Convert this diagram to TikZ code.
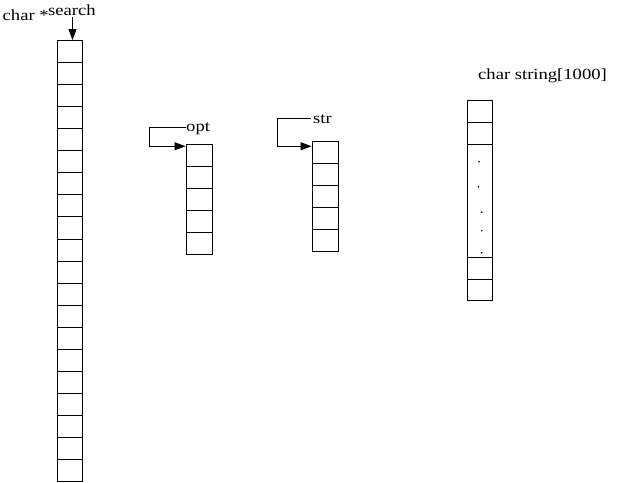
\documentclass[tikz,border=0pt]{standalone}
\usepackage{fontspec}
\setmainfont{Liberation Serif}
\usetikzlibrary{arrows.meta}
\newcommand{\lbltext}[1]{\scalebox{1.2}[1]{\fontsize{15.5}{18}\selectfont #1}}
\begin{document}
\begin{tikzpicture}[x=1pt,y=-1pt,
  cell/.style={draw,line width=0.9pt,rectangle,inner sep=0pt,minimum height=22pt},
  lbl/.style={inner sep=0pt,anchor=base west},
  ptr/.style={line width=0.9pt,-{Triangle[length=11pt,width=8pt]}}]
\useasboundingbox (0,0) rectangle (620,482);
% left column: char *search
\foreach \i in {1,...,20}{
  \node[cell,minimum width=24.5pt,minimum height=22.05pt] (s\i) at (69.75,{40.5+22.05*(\i-0.5)}) {};
}
\node[lbl] (charl) at (2.5,20.7) {\lbltext{char *}};
\node[lbl] (searchl) at (48,15) {\lbltext{search}};
\coordinate (sstart) at (72.5,17);
\draw[ptr] (sstart) -- (s1.north -| sstart);
% opt column
\foreach \i in {1,...,5}{
  \node[cell,minimum width=26.5pt] (o\i) at (199.25,{144+22*(\i-0.5)}) {};
}
\node[lbl] (optl) at (186,131.7) {\lbltext{opt}};
\coordinate (ostart) at (185.5,127);
\draw[ptr] (ostart) -- (149,127) |- ([yshift=-2.7pt]o1.north west);
% str column
\foreach \i in {1,...,5}{
  \node[cell,minimum width=26.3pt] (t\i) at (325.15,{141+22*(\i-0.5)}) {};
}
\node[lbl] (strl) at (313,123) {\lbltext{str}};
\coordinate (tstart) at (311,118.3);
\draw[ptr] (tstart) -- (277.3,118.3) |- ([yshift=-5.7pt]t1.north west);
% string column
\node[lbl] (stringl) at (478,79.3) {\lbltext{char string[1000]}};
\node[cell,minimum width=24.8pt] (g1) at (479.9,111) {};
\node[cell,minimum width=24.8pt,minimum height=22.3pt] (g2) at (479.9,133.15) {};
\node[cell,minimum width=24.8pt,minimum height=113pt] (g3) at (479.9,200.8) {};
\node[cell,minimum width=24.8pt] (g4) at (479.9,268.3) {};
\node[cell,minimum width=24.8pt,minimum height=21.4pt] (g5) at (479.9,290) {};
\foreach \x/\y in {479/161.7,478.5/186.7,481.7/212.3,481.7/230.7,481.7/252.7}{
  \fill (\x,\y) circle (0.9pt);
}
\end{tikzpicture}
\end{document}
